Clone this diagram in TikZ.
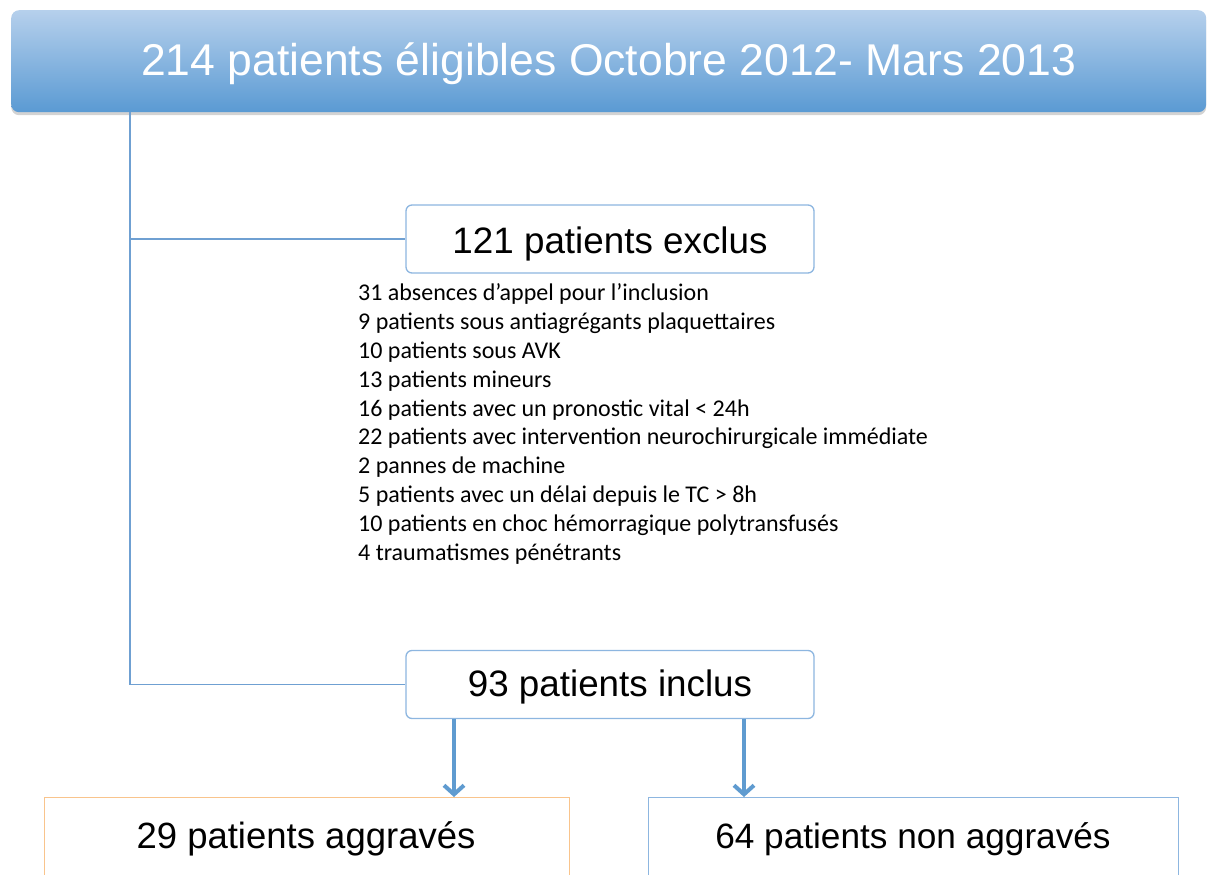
\documentclass[tikz,border=0pt]{standalone}
\usepackage{fontspec}
\setmainfont{Liberation Sans}
\newfontfamily\listfont{Carlito}
\usetikzlibrary{shadows,arrows.meta}
\definecolor{lineblue}{HTML}{6FA0D2}
\definecolor{boxblue}{HTML}{8DB6E0}
\definecolor{arrowblue}{HTML}{5F9BD0}
\definecolor{boxorange}{HTML}{F9C48C}
\definecolor{topc}{HTML}{B6D0EC}
\definecolor{botc}{HTML}{5A9AD3}
\tikzset{
  roundbox/.style={draw=boxblue, line width=1.3pt, rounded corners=6pt, fill=white,
    minimum width=408pt, minimum height=68pt, font=\fontsize{36.8}{40}\selectfont},
  plainbox/.style={line width=1.3pt, fill=white, anchor=north west},
  conn/.style={draw=lineblue, line width=1.4pt},
  bigarrow/.style={draw=arrowblue, line width=4pt, -{Straight Barb[length=9pt,width=20pt,line width=4pt]},
    drop shadow={shadow xshift=0pt, shadow yshift=-2pt, opacity=0.25}},
  bottext/.style={anchor=base},
  listtext/.style={font=\listfont\fontsize{24}{28.8}\selectfont, align=left, anchor=base west, inner sep=0pt}
}
\begin{document}
\begin{tikzpicture}[x=1pt,y=-1pt]
\useasboundingbox (0,0) rectangle (1208,875);
\clip (0,0) rectangle (1208,875);
% top box
\node[draw=none, rounded corners=8pt, top color=topc, bottom color=botc,
  minimum width=1195pt, minimum height=102pt, anchor=north west,
  text height=30pt, text depth=2pt,
  drop shadow={shadow xshift=0pt, shadow yshift=-3pt, opacity=0.35},
  text=white, font=\fontsize{44.5}{50}\selectfont] (top) at (11,10) {214 patients éligibles Octobre 2012- Mars 2013};
\coordinate (trunk) at (130,112);
\node[roundbox, text height=30pt, text depth=2pt] (excl) at (610,239) {121 patients exclus};
\node[roundbox, text height=25pt, text depth=2pt] (incl) at (610,684.5) {93 patients inclus};
\coordinate (t1) at (130,239);
\coordinate (t2) at (130,684.5);
\draw[conn] (trunk) -- (t2) -- (incl.west);
\draw[conn] (t1) -- (excl.west);
\node[listtext] (list) at (358,560) {31 absences d’appel pour l’inclusion\\
9 patients sous antiagrégants plaquettaires\\
10 patients sous AVK\\
13 patients mineurs\\
16 patients avec un pronostic vital < 24h\\
22 patients avec intervention neurochirurgicale immédiate\\
2 pannes de machine\\
5 patients avec un délai depuis le TC > 8h\\
10 patients en choc hémorragique polytransfusés\\
4 traumatismes pénétrants};
% bottom boxes
\node[plainbox, draw=boxorange, minimum width=525pt, minimum height=120pt] (aggr) at (44,797) {};
\node[plainbox, draw=boxblue, minimum width=530pt, minimum height=120pt] (nonaggr) at (648,797) {};
\node[bottext, font=\fontsize{36.5}{40}\selectfont] (aggrtxt) at (306,848) {29 patients aggravés};
\node[bottext, font=\fontsize{35.2}{40}\selectfont] (nonaggrtxt) at (913,848) {64 patients non aggravés};
\draw[bigarrow] (incl.south -| 454,0) -- (aggr.north -| 454,0);
\draw[bigarrow] (incl.south -| 744,0) -- (nonaggr.north -| 744,0);
\end{tikzpicture}
\end{document}
